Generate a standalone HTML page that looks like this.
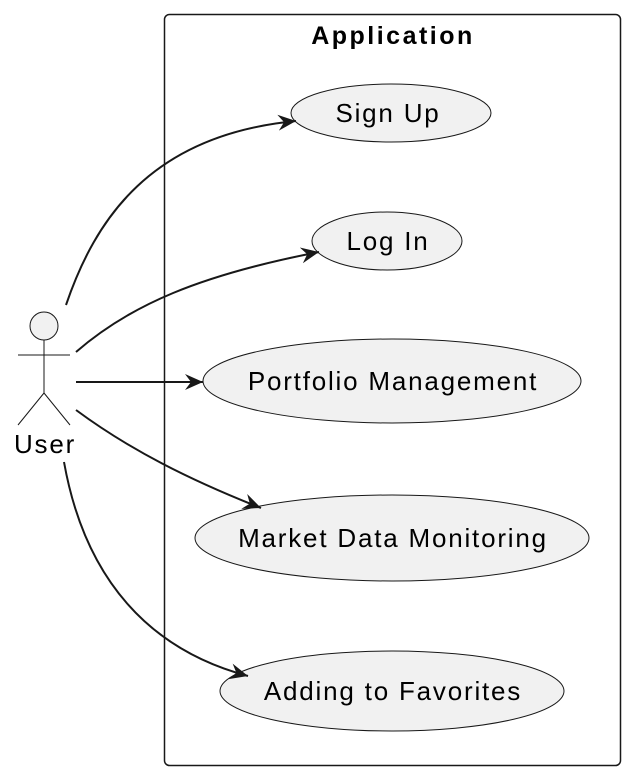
<!DOCTYPE html>
<html><head><style>body{margin:0;background:#fff}svg{display:block}</style></head><body>
<svg width="632" height="778" viewBox="0 0 632 778" xmlns="http://www.w3.org/2000/svg" font-family="Liberation Sans, sans-serif">
<defs>
<marker id="a" viewBox="0 0 20 20" refX="18" refY="10" markerWidth="20" markerHeight="20" markerUnits="userSpaceOnUse" orient="auto">
<path d="M0,2 L18,10 L0,18 L6,10 Z" fill="#181818"/>
</marker>
</defs>
<rect x="164.5" y="14.5" width="456" height="751" rx="5" fill="#fff" stroke="#181818" stroke-width="1.5"/>
<text x="393" y="44" font-size="25" font-weight="bold" text-anchor="middle" fill="#000" letter-spacing="2.5">Application</text>
<g fill="#f1f1f1" stroke="#181818" stroke-width="1">
<ellipse cx="391" cy="113" rx="100" ry="29"/>
<ellipse cx="387" cy="241" rx="75" ry="29"/>
<ellipse cx="392" cy="381" rx="189" ry="42"/>
<ellipse cx="392" cy="538" rx="197" ry="43"/>
<ellipse cx="392" cy="691" rx="172" ry="40"/>
</g>
<g font-size="26" text-anchor="middle" fill="#000" letter-spacing="1.8">
<text x="388" y="122">Sign Up</text>
<text x="388" y="250">Log In</text>
<text x="393" y="390">Portfolio Management</text>
<text x="393" y="547">Market Data Monitoring</text>
<text x="393" y="700">Adding to Favorites</text>
<text x="45" y="453">User</text>
</g>
<g fill="none" stroke="#181818" stroke-width="1">
<circle cx="44" cy="326" r="14" fill="#f1f1f1"/>
<line x1="44" y1="340" x2="44" y2="393"/>
<line x1="18" y1="355" x2="70" y2="355"/>
<line x1="44" y1="393" x2="18" y2="425"/>
<line x1="44" y1="393" x2="70" y2="425"/>
</g>
<g fill="none" stroke="#181818" stroke-width="2" marker-end="url(#a)">
<path d="M66,305 C95,220 150,135 296,121"/>
<path d="M76,352 C130,305 200,275 319,252"/>
<path d="M76,382 L203,382"/>
<path d="M76,410 C130,450 190,480 261,508"/>
<path d="M64,462 C85,580 150,650 248,676"/>
</g>
</svg>
</body></html>
